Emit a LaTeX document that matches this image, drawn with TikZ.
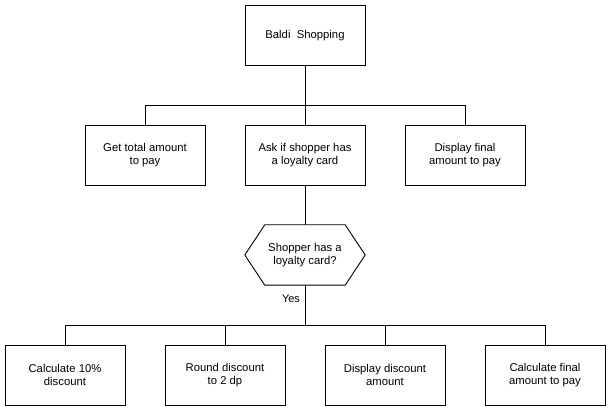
\documentclass[tikz,border=0pt]{standalone}
\usepackage{fontspec}
\setmainfont{Liberation Sans}
\usetikzlibrary{positioning,calc}

\begin{document}
\begin{tikzpicture}[
    x=1pt, y=-1pt,
    box/.style={draw, minimum width=120pt, minimum height=60pt, align=center, font=\fontsize{11.3}{13.5}\selectfont, inner sep=0pt},
    hexa/.style={minimum width=120pt, minimum height=60pt, align=center, font=\fontsize{11.3}{13.5}\selectfont, inner sep=0pt},
    conn/.style={line width=0.9pt}
]
\useasboundingbox (0,0) rectangle (611,411);

\node[box] (top) at (305,35.5) {Baldi\ \ Shopping};
\node[box] (get) at (145,155) {Get total amount\\to pay};
\node[box] (ask) at (305,155) {Ask if shopper has\\a loyalty card};
\node[box] (disp) at (465,155) {Display final\\amount to pay};
\node[hexa] (dec) at (305,255) {Shopper has a\\loyalty card?};
\draw[conn] ($(dec.north west)+(20,0)$) -- ($(dec.north east)+(-20,0)$) -- (dec.east)
    -- ($(dec.south east)+(-20,0)$) -- ($(dec.south west)+(20,0)$) -- (dec.west) -- cycle;
\node[box] (calc) at (65,375) {Calculate 10\%\\discount};
\node[box] (round) at (225,375) {Round discount\\to 2 dp};
\node[box] (show) at (385,375) {Display discount\\amount};
\node[box] (final) at (545,375) {Calculate final\\amount to pay};
\node[font=\fontsize{11}{13}\selectfont, fill=white, inner sep=1pt] (yes) at (291,299) {Yes};

\draw[conn] (top.south) -- ++(0,40) -| (get.north);
\draw[conn] (top.south) -- ++(0,40) -| (disp.north);
\draw[conn] (top.south) -- (ask.north);
\draw[conn] (ask.south) -- (dec.south |- dec.north);
\draw[conn] (dec.south) -- ++(0,40) -| (calc.north);
\draw[conn] (dec.south) -- ++(0,40) -| (round.north);
\draw[conn] (dec.south) -- ++(0,40) -| (show.north);
\draw[conn] (dec.south) -- ++(0,40) -| (final.north);
\end{tikzpicture}
\end{document}
